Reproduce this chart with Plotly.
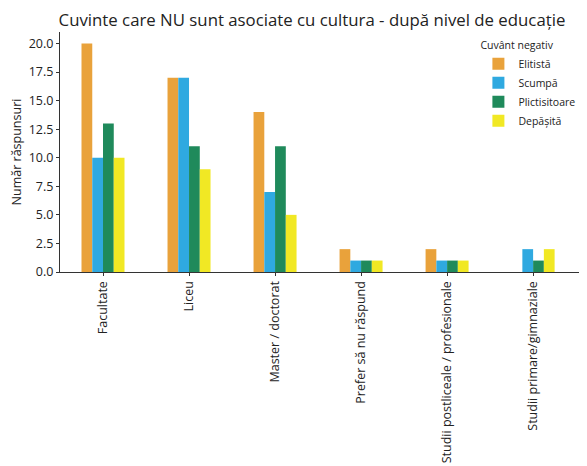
import plotly.graph_objects as go

categories = ["Facultate", "Liceu", "Master / doctorat", "Prefer să nu răspund",
              "Studii postliceale / profesionale", "Studii primare/gimnaziale"]
elitista = [20, 17, 14, 2, 2, 0]
scumpa = [10, 17, 7, 1, 1, 2]
plictisitoare = [13, 11, 11, 1, 1, 1]
depasita = [10, 9, 5, 1, 1, 2]

series = [("Elitistă", elitista, "#E9A23B"),
          ("Scumpă", scumpa, "#2FA9E0"),
          ("Plictisitoare", plictisitoare, "#1F8A5B"),
          ("Depășită", depasita, "#F1E824")]

fig = go.Figure()
for name, vals, col in series:
    fig.add_trace(go.Bar(x=categories, y=vals, name=name, marker=dict(color=col, line=dict(width=0))))

fig.update_layout(
    width=579, height=458,
    margin=dict(l=52, r=4, t=24, b=194, autoexpand=False),
    paper_bgcolor="white", plot_bgcolor="white",
    barmode="group", bargap=0.5, bargroupgap=0,
    font=dict(family="Open Sans", color="#222", size=12),
    title=dict(text="Cuvinte care NU sunt asociate cu cultura - după nivel de educație",
               x=0.525, xanchor="center", y=0.973, yanchor="middle",
               font=dict(size=16.8, color="#222")),
    legend=dict(title=dict(text="Cuvânt negativ", font=dict(size=10.5)),
                x=0.80, y=0.985, xanchor="left", yanchor="top",
                font=dict(size=10.5), bgcolor="rgba(0,0,0,0)",
                itemwidth=30, tracegroupgap=0),
    xaxis=dict(tickangle=-90, showline=True, linecolor="#333", linewidth=1.2,
               ticks="outside", ticklen=3, tickcolor="#333", showgrid=False,
               tickfont=dict(size=12.5), range=[-0.5, 5.58], automargin=False),
    yaxis=dict(title=dict(text="Număr răspunsuri", font=dict(size=12.5), standoff=6),
               range=[0, 21], dtick=2.5, tickformat=".1f", showline=True,
               linecolor="#333", linewidth=1.2, ticks="outside", ticklen=3,
               tickcolor="#333", showgrid=False, zeroline=False,
               tickfont=dict(size=12.5), automargin=False),
)
fig.write_html("out.html")
